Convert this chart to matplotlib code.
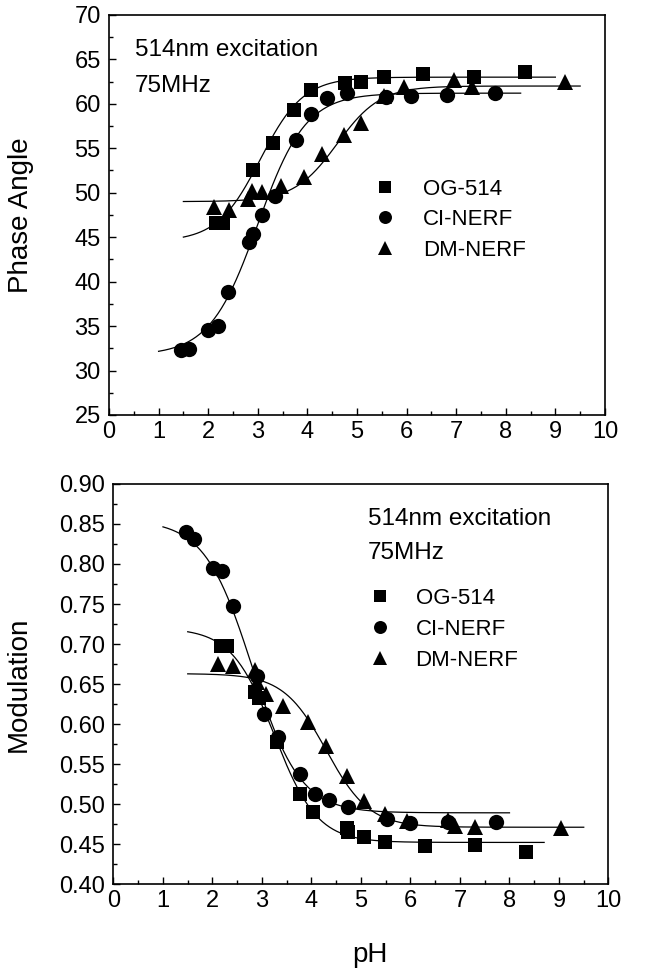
import numpy as np
import matplotlib
matplotlib.use("Agg")
import matplotlib.pyplot as plt
from matplotlib.ticker import MultipleLocator, FormatStrFormatter

plt.rcParams['font.family'] = ['Liberation Sans', 'DejaVu Sans']

# ---------------- Top panel: Phase Angle ----------------
og_ph_top = [2.15, 2.29, 2.90, 3.30, 3.73, 4.07, 4.75, 5.09, 5.54, 6.34, 7.35, 8.39]
og_phase = [46.6, 46.6, 52.5, 55.6, 59.3, 61.6, 62.3, 62.4, 63.0, 63.4, 63.0, 63.6]

cl_ph_top = [1.46, 1.61, 2.00, 2.19, 2.39, 2.83, 2.90, 3.08, 3.34, 3.78, 4.07, 4.40, 4.80, 5.58, 6.08, 6.82, 7.79]
cl_phase = [32.3, 32.4, 34.6, 35.0, 38.8, 44.4, 45.3, 47.5, 49.6, 55.9, 58.9, 60.6, 61.2, 60.8, 60.9, 61.0, 61.2]

dm_ph_top = [2.12, 2.42, 2.80, 2.88, 3.08, 3.46, 3.94, 4.29, 4.74, 5.09, 5.55, 5.95, 6.95, 7.32, 9.20]
dm_phase = [48.4, 48.0, 49.3, 50.2, 50.1, 50.7, 51.8, 54.4, 56.5, 57.8, 60.9, 61.9, 62.7, 61.9, 62.5]

# ---------------- Bottom panel: Modulation ----------------
og_ph_bot = [2.17, 2.29, 2.86, 2.94, 3.30, 3.76, 4.04, 4.71, 4.74, 5.06, 5.48, 6.29, 7.30, 8.33]
og_mod = [0.698, 0.697, 0.640, 0.632, 0.578, 0.513, 0.490, 0.470, 0.465, 0.459, 0.452, 0.447, 0.449, 0.440]

cl_ph_bot = [1.47, 1.62, 2.01, 2.19, 2.41, 2.90, 3.04, 3.33, 3.76, 4.07, 4.36, 4.74, 5.53, 5.99, 6.76, 7.72]
cl_mod = [0.840, 0.831, 0.795, 0.791, 0.748, 0.660, 0.613, 0.584, 0.537, 0.513, 0.505, 0.496, 0.481, 0.476, 0.478, 0.478]

dm_ph_bot = [2.12, 2.41, 2.86, 2.90, 3.08, 3.42, 3.92, 4.29, 4.71, 5.06, 5.48, 5.92, 6.76, 6.90, 7.30, 9.05]
dm_mod = [0.675, 0.673, 0.668, 0.652, 0.638, 0.622, 0.603, 0.572, 0.535, 0.504, 0.488, 0.479, 0.480, 0.472, 0.471, 0.470]

# Fitted sigmoid parameters: (acid value, base value, pKa, slope, pH start, pH end)
fit_top = {
    'OG-514': (44.5, 63.0, 3.05, 1.0, 1.5, 9.0),
    'Cl-NERF': (31.7, 61.2, 3.00, 0.9, 1.0, 8.3),
    'DM-NERF': (49.0, 62.0, 4.60, 1.0, 1.5, 9.5),
}
fit_bot = {
    'OG-514': (0.720, 0.452, 3.25, 1.0, 1.5, 8.7),
    'Cl-NERF': (0.855, 0.489, 2.80, 0.9, 1.0, 8.0),
    'DM-NERF': (0.663, 0.471, 4.30, 1.0, 1.5, 9.5),
}

labels = ['OG-514', 'Cl-NERF', 'DM-NERF']
legend_labels = ['OG-514', 'CI-NERF', 'DM-NERF']
markers = ['s', 'o', '^']
marker_sizes = [10.5, 11, 12]


def sigmoid(ph, a, b, pka, n):
    return a + (b - a) / (1.0 + 10 ** (n * (pka - ph)))


fig = plt.figure(figsize=(6.51, 9.75), dpi=100)
ax1 = fig.add_axes([0.1674, 0.5744, 0.7619, 0.4103])
ax2 = fig.add_axes([0.1743, 0.0933, 0.7604, 0.4103])

top_data = [(og_ph_top, og_phase), (cl_ph_top, cl_phase), (dm_ph_top, dm_phase)]
bot_data = [(og_ph_bot, og_mod), (cl_ph_bot, cl_mod), (dm_ph_bot, dm_mod)]

handle_store = {}
for ax, data, fits in [(ax1, top_data, fit_top), (ax2, bot_data, fit_bot)]:
    handles = []
    for (x, y), lab, lleg, mk, ms in zip(data, labels, legend_labels, markers, marker_sizes):
        a, b, pka, n, x0, x1 = fits[lab]
        xx = np.linspace(x0, x1, 300)
        ax.plot(xx, sigmoid(xx, a, b, pka, n), color='black', lw=0.9, zorder=2)
        h, = ax.plot(x, y, linestyle='none', marker=mk, ms=ms, color='black',
                     markeredgewidth=0, zorder=3, label=lleg)
        handles.append(h)
    ax.set_xlim(0, 10)
    ax.xaxis.set_major_locator(MultipleLocator(1))
    ax.xaxis.set_minor_locator(MultipleLocator(0.5))
    ax.tick_params(which='both', direction='in', top=False, right=False,
                   labelsize=17, width=1.0)
    ax.tick_params(which='major', length=5)
    ax.tick_params(which='minor', length=3)
    ax.tick_params(axis='x', pad=4)
    ax.tick_params(axis='y', pad=6)
    for s in ax.spines.values():
        s.set_linewidth(1.2)
    handle_store[ax] = handles

# Top axis formatting
ax1.set_ylim(25, 70)
ax1.yaxis.set_major_locator(MultipleLocator(5))
ax1.yaxis.set_minor_locator(MultipleLocator(2.5))
ax1.set_ylabel('Phase Angle', fontsize=20)
ax1.yaxis.set_label_coords(-0.152, 0.5)
ax1.text(0.052, 0.9125, '514nm excitation', transform=ax1.transAxes,
         fontsize=17.5, ha='left', va='center')
ax1.text(0.052, 0.8225, '75MHz', transform=ax1.transAxes,
         fontsize=17.5, ha='left', va='center')
ax1.legend(handles=handle_store[ax1], loc='upper left',
           bbox_to_anchor=(0.534, 0.591), frameon=False, fontsize=16,
           handlelength=1.0, handletextpad=1.2, labelspacing=0.43,
           borderpad=0, borderaxespad=0, numpoints=1, markerscale=0.85)

# Bottom axis formatting
ax2.set_ylim(0.40, 0.90)
ax2.yaxis.set_major_locator(MultipleLocator(0.05))
ax2.yaxis.set_minor_locator(MultipleLocator(0.025))
ax2.yaxis.set_major_formatter(FormatStrFormatter('%.2f'))
ax2.set_ylabel('Modulation', fontsize=20)
ax2.yaxis.set_label_coords(-0.165, 0.5)
ax2.text(0.518, -0.178, 'pH', transform=ax2.transAxes, fontsize=20,
         ha='center', va='center')
ax2.text(0.514, 0.9125, '514nm excitation', transform=ax2.transAxes,
         fontsize=17.5, ha='left', va='center')
ax2.text(0.514, 0.8275, '75MHz', transform=ax2.transAxes,
         fontsize=17.5, ha='left', va='center')
ax2.legend(handles=handle_store[ax2], loc='upper left',
           bbox_to_anchor=(0.516, 0.741), frameon=False, fontsize=16,
           handlelength=1.0, handletextpad=1.1, labelspacing=0.45,
           borderpad=0, borderaxespad=0, numpoints=1, markerscale=0.85)

fig.savefig('out.png', dpi=100)
